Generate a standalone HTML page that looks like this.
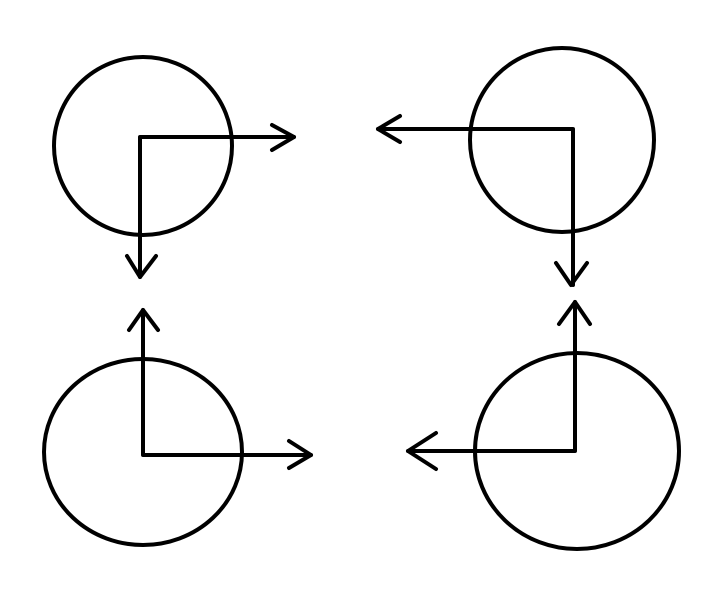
<!DOCTYPE html>
<html><head><style>html,body{margin:0;padding:0;background:#fff;}svg{display:block}</style></head>
<body>
<svg width="725" height="614" viewBox="0 0 725 614" xmlns="http://www.w3.org/2000/svg">
<g fill="none" stroke="#000" stroke-width="4" stroke-linecap="round" stroke-linejoin="round">
<!-- top-left -->
<ellipse cx="143" cy="146" rx="89" ry="89"/>
<path d="M140 277 V137 H294"/>
<path d="M272 125 L294 137 L272 150"/>
<path d="M127 256 L140 277 L156 256"/>
<!-- top-right -->
<ellipse cx="562" cy="140" rx="92" ry="92"/>
<path d="M378 129 H573 V285"/>
<path d="M400 116 L378 129 L400 142"/>
<path d="M556 263 L571 285 L587 263"/>
<!-- bottom-left -->
<ellipse cx="143" cy="452" rx="99" ry="93"/>
<path d="M143 310 V455 H311"/>
<path d="M129 330 L143 310 L158 330"/>
<path d="M289 441 L311 455 L289 468"/>
<!-- bottom-right -->
<ellipse cx="577" cy="451" rx="102" ry="98"/>
<path d="M408 451 H575 V302"/>
<path d="M436 433 L408 451 L436 469"/>
<path d="M559 324 L575 302 L590 324"/>
</g>
</svg>
</body></html>
